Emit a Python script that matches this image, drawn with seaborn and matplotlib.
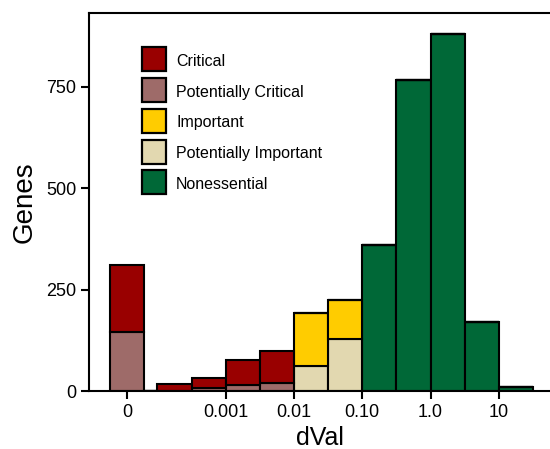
import matplotlib
matplotlib.use("Agg")
import matplotlib.pyplot as plt
import numpy as np
import pandas as pd
import seaborn as sns
from matplotlib.lines import Line2D

# log10(dVal) bin centres; the first one is the separate "0" bin
bin_centers = [-4.445, -3.75, -3.25, -2.75, -2.25, -1.75, -1.25, -0.75, -0.25, 0.25, 0.75, 1.25]
bin_edges = [-4.695, -4.195, -4.0, -3.5, -3.0, -2.5, -2.0, -1.5, -1.0, -0.5, 0.0, 0.5, 1.0, 1.5]

critical = [167, 18, 25, 62, 78, 0, 0, 0, 0, 0, 0, 0]
pot_critical = [145, 0, 8, 14, 21, 0, 0, 0, 0, 0, 0, 0]
important = [0, 0, 0, 0, 0, 131, 95, 0, 0, 0, 0, 0]
pot_important = [0, 0, 0, 0, 0, 61, 129, 0, 0, 0, 0, 0]
nonessential = [0, 0, 0, 0, 0, 0, 0, 359, 766, 880, 171, 9]

categories = ["Critical", "Potentially Critical", "Important", "Potentially Important", "Nonessential"]
colors = ["#990000", "#9e6b69", "#ffcc00", "#e2d8b0", "#006837"]

tick_pos = [-4.445, -3, -2, -1, 0, 1]
tick_labels = ["0", "0.001", "0.01", "0.10", "1.0", "10"]

rows = []
for cat, counts in zip(categories, [critical, pot_critical, important, pot_important, nonessential]):
    for c, n in zip(bin_centers, counts):
        rows.append({"x": c, "n": n, "status": cat})
df = pd.DataFrame(rows)

sns.set_style("ticks")
plt.rcParams["font.family"] = ["Liberation Sans", "DejaVu Sans"]
plt.rcParams["text.color"] = "black"
plt.rcParams["axes.labelcolor"] = "black"
plt.rcParams["xtick.color"] = "black"
plt.rcParams["ytick.color"] = "black"

fig = plt.figure(figsize=(5.5, 4.49), dpi=100)
ax = fig.add_axes([0.162, 0.129, 0.838, 0.842])

sns.histplot(
    data=df, x="x", weights="n", hue="status", hue_order=categories,
    palette=dict(zip(categories, colors)), bins=bin_edges, multiple="stack",
    edgecolor="black", linewidth=1.5, alpha=1, legend=False, ax=ax,
)

ax.set_xlim(-5.0, 1.75)
ax.set_ylim(0, 932)
ax.set_xticks(tick_pos)
ax.set_xticklabels(tick_labels)
ax.set_yticks([0, 250, 500, 750])
ax.tick_params(labelsize=13, width=1.5, length=6, color="black", labelcolor="black", pad=3)
ax.set_xlabel("dVal", fontsize=18, labelpad=4)
ax.set_ylabel("Genes", fontsize=20, labelpad=6)
for side in ["left", "bottom", "top"]:
    ax.spines[side].set_visible(True)
    ax.spines[side].set_linewidth(1.5)
    ax.spines[side].set_color("black")
ax.spines["right"].set_visible(False)

handles = [Line2D([], [], linestyle="none", marker="s", markersize=17.8,
                  markerfacecolor=c, markeredgecolor="black", markeredgewidth=1.6)
           for c in colors]
ax.legend(handles, categories, loc="upper left", bbox_to_anchor=(0.113, 0.895),
          frameon=False, fontsize=11.5, handlelength=1.63, handleheight=1.1,
          labelspacing=0.92, handletextpad=0.55, borderpad=0, borderaxespad=0,
          labelcolor="black")

fig.savefig("out.png", dpi=100)
